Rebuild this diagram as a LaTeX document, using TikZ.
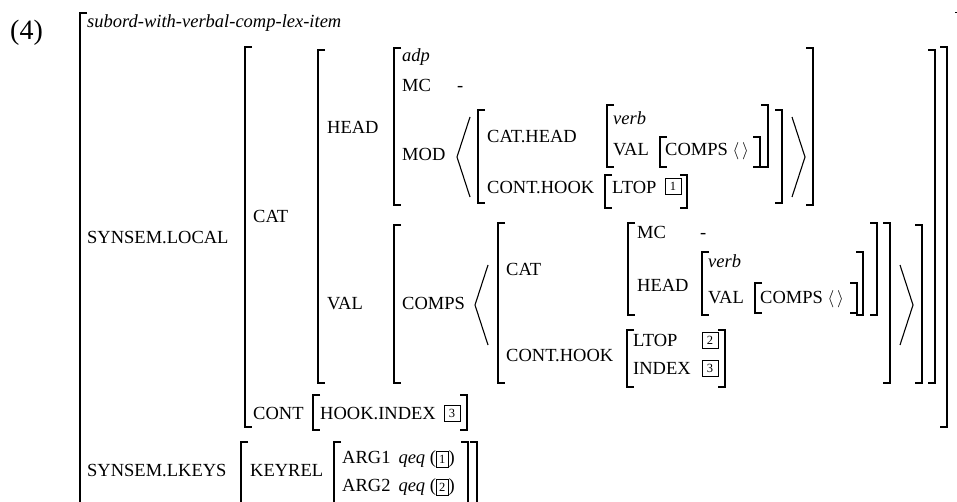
\documentclass[tikz,border=0pt]{standalone}
\usepackage{fontspec}
\setmainfont{Liberation Serif}
\begin{document}
\begin{tikzpicture}[x=1pt,y=-1pt,
  br/.style={line width=1.5pt},
  ang/.style={line width=1.1pt},
  lbl/.style={anchor=base west,inner sep=0pt,font=\fontsize{18.5}{20}\selectfont},
  typ/.style={lbl,font=\fontsize{18.5}{20}\selectfont\itshape},
  tag/.style={draw,line width=0.7pt,minimum width=16pt,minimum height=16pt,inner sep=0pt,font=\fontsize{12.5}{12.5}\selectfont}]
\newcommand\avmL[3]{\draw[br] ({#1+7},#2) -- (#1,#2) -- (#1,#3) -- ({#1+7},#3);}
\newcommand\avmR[3]{\draw[br] ({#1-7},#2) -- (#1,#2) -- (#1,#3) -- ({#1-7},#3);}
\newcommand\avmLA[3]{\draw[ang] ({#1+13},#2) -- (#1,{(#2+#3)/2}) -- ({#1+13},#3);}
\newcommand\avmRA[3]{\draw[ang] ({#1-13},#2) -- (#1,{(#2+#3)/2}) -- ({#1-13},#3);}
\newcommand\tbx[1]{{\setlength\fboxsep{2.5pt}\setlength\fboxrule{0.7pt}\fbox{\fontsize{12.5}{12.5}\selectfont\rule[-1pt]{0pt}{10pt}#1}}}
\useasboundingbox (0,0) rectangle (957,502);
% number
\node[anchor=base west,inner sep=0pt,font=\fontsize{28}{30}\selectfont] (num) at (10,40) {(4)};
% outer
\draw[br] (87,13) -- (80,13) -- (80,520);
\draw[line width=1pt] (955,13) -- (958,13) -- (958,520);
\node[typ] (t0) at (87,28) {subord-with-verbal-comp-lex-item};
\node[lbl] (sl) at (87,244) {SYNSEM.LOCAL};
% SYNSEM.LOCAL value
\avmL{245}{47}{427}\avmR{947}{47}{427}
\node[lbl] (cat) at (253,223) {CAT};
\avmL{318}{50}{383}\avmR{935}{50}{383}
\node[lbl] (head) at (327,134) {HEAD};
\avmL{394}{48}{205}\avmR{813}{48}{205}
\node[typ] (adp) at (402,62) {adp};
\node[lbl] (mc1) at (402,92) {MC};
\node[lbl] (mc1v) at (457,92) {-};
\node[lbl] (mod) at (402,161) {MOD};
\avmLA{457}{117}{197}\avmRA{805}{117}{197}
\avmL{478}{110}{203}\avmR{782}{110}{203}
\node[lbl] (cathead) at (487,143) {CAT.HEAD};
\avmL{607}{105}{167}\avmR{768}{105}{167}
\node[typ] (verb1) at (613,125) {verb};
\node[lbl] (val1) at (613,156) {VAL};
\avmL{660}{137}{167}\avmR{760}{137}{167}
\node[lbl] (comps1) at (665,156) {COMPS $\langle\,\rangle$};
\node[lbl] (conthook1) at (487,194) {CONT.HOOK};
\avmL{605}{175}{208}\avmR{687}{175}{208}
\node[lbl] (ltop1) at (612,194) {LTOP};
\node[tag] (b1) at (673,186) {1};
% VAL
\node[lbl] (val) at (327,309) {VAL};
\avmL{394}{225}{383}\avmR{922}{225}{383}
\node[lbl] (comps) at (402,309) {COMPS};
\avmLA{475}{265}{345}\avmRA{913}{265}{345}
\avmL{498}{223}{383}\avmR{890}{223}{383}
\node[lbl] (cat2) at (506,276) {CAT};
\avmL{628}{223}{315}\avmR{877}{223}{315}
\node[lbl] (mc2) at (637,239) {MC};
\node[lbl] (mc2v) at (700,239) {-};
\node[lbl] (head2) at (637,291) {HEAD};
\avmL{702}{252}{315}\avmR{863}{252}{315}
\node[typ] (verb2) at (708,268) {verb};
\node[lbl] (val2) at (708,303) {VAL};
\avmL{755}{283}{313}\avmR{857}{283}{313}
\node[lbl] (comps2) at (760,303) {COMPS $\langle\,\rangle$};
\node[lbl] (conthook2) at (506,361) {CONT.HOOK};
\avmL{627}{330}{387}\avmR{725}{330}{387}
\node[lbl] (ltop2) at (633,346) {LTOP};
\node[tag] (b2) at (710,340) {2};
\node[lbl] (index2) at (633,374) {INDEX};
\node[tag] (b3) at (710,368) {3};
% CONT
\node[lbl] (cont) at (253,419) {CONT};
\avmL{313}{395}{430}\avmR{467}{395}{430}
\node[lbl] (hookindex) at (320,419) {HOOK.INDEX};
\node[tag] (b3b) at (452,413) {3};
% LKEYS
\node[lbl] (lkeys) at (87,476) {SYNSEM.LKEYS};
\draw[br] (248,442) -- (241,442) -- (241,520);
\draw[br] (470,442) -- (477,442) -- (477,520);
\node[lbl] (keyrel) at (250,476) {KEYREL};
\draw[br] (341,442) -- (334,442) -- (334,520);
\draw[br] (461,442) -- (468,442) -- (468,520);
\node[lbl] (arg1) at (342,463) {ARG1\hspace{8pt}\textit{qeq} (\tbx{1})};
\node[lbl] (arg2) at (342,491) {ARG2\hspace{8pt}\textit{qeq} (\tbx{2})};
\end{tikzpicture}
\end{document}
